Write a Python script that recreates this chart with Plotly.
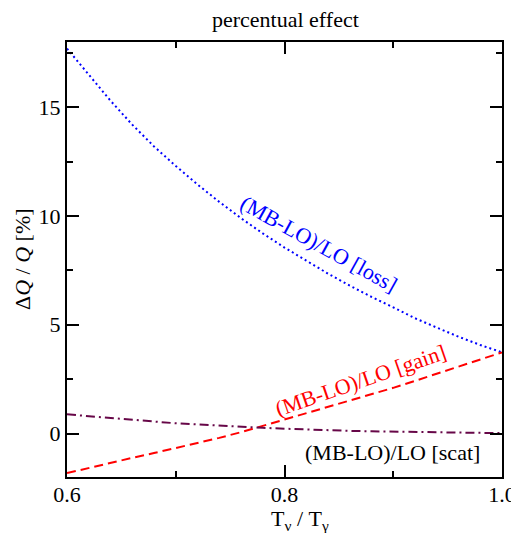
import plotly.graph_objects as go

x_vals = [0.60, 0.62, 0.64, 0.66, 0.68, 0.70, 0.72, 0.74, 0.76, 0.78, 0.80,
          0.82, 0.84, 0.86, 0.88, 0.90, 0.92, 0.94, 0.96, 0.98, 1.00]
loss_vals = [17.7, 16.5, 15.3, 14.2, 13.2, 12.3, 11.45, 10.65, 9.9, 9.2, 8.55,
             7.95, 7.35, 6.8, 6.28, 5.8, 5.3, 4.87, 4.45, 4.07, 3.73]
gain_vals = [-1.82, -1.58, -1.35, -1.12, -0.9, -0.67, -0.44, -0.2, 0.06, 0.35, 0.63,
             0.92, 1.21, 1.5, 1.8, 2.1, 2.42, 2.74, 3.06, 3.39, 3.73]
scat_vals = [0.88, 0.79, 0.71, 0.63, 0.55, 0.47, 0.41, 0.35, 0.30, 0.26, 0.22,
             0.18, 0.15, 0.12, 0.10, 0.08, 0.06, 0.05, 0.04, 0.03, 0.02]

x_ticks = [0.6, 0.8, 1.0]
x_tick_labels = ["0.6", "0.8", "1.0"]
y_ticks = [0, 5, 10, 15]
y_tick_labels = ["0", "5", "10", "15"]

FONT = "Liberation Serif"
OFF = 8  # default page body margin
W, H = 519, 533
# target frame in screen pixels: left 67, right 502, top 42, bottom 477
L = 67 - OFF
T = 42 - OFF
R = W - (502 - OFF)
B = H - (477 - OFF)
PW, PH = W - L - R, H - T - B

def px(xs):
    return (xs - OFF - L) / PW

def py(ys):
    return (H - B - (ys - OFF)) / PH

fig = go.Figure()
fig.add_trace(go.Scatter(x=x_vals, y=loss_vals, mode="lines",
                         line=dict(color="#0000ff", width=2, dash="2px,3px"),
                         showlegend=False))
fig.add_trace(go.Scatter(x=x_vals, y=gain_vals, mode="lines",
                         line=dict(color="#ff0000", width=2, dash="9px,5px"),
                         showlegend=False))
fig.add_trace(go.Scatter(x=x_vals, y=scat_vals, mode="lines",
                         line=dict(color="#670748", width=2, dash="9px,4px,2px,4px"),
                         showlegend=False))

axis_common = dict(showgrid=False, zeroline=False, showline=True, linecolor="black",
                   linewidth=2, mirror="allticks", ticks="inside", ticklen=12,
                   tickwidth=2, tickcolor="black", automargin=False,
                   tickfont=dict(family=FONT, size=22, color="black"))

fig.update_xaxes(range=[0.6, 1.0], tickvals=x_ticks, ticktext=x_tick_labels,
                 ticklabelstandoff=-3,
                 minor=dict(tickvals=[0.7, 0.9], ticklen=6, tickwidth=2,
                            tickcolor="black", ticks="inside"),
                 **axis_common)
fig.update_yaxes(range=[-2, 18], tickvals=y_ticks, ticktext=y_tick_labels,
                 minor=dict(tickvals=[2.5, 7.5, 12.5, 17.5], ticklen=6, tickwidth=2,
                            tickcolor="black", ticks="inside"),
                 **axis_common)

ann = [
    dict(text="percentual effect", x=px(285), y=py(20), font=dict(size=22, color="black")),
    dict(text="Δ<i>Q</i> / <i>Q</i> [%]", x=px(22), y=py(259), textangle=-90,
         font=dict(size=22, color="black")),
    dict(text="T<sub>ν</sub> / T<sub>γ</sub>", x=px(300), y=py(520),
         font=dict(size=22, color="black")),
    dict(text="(MB-LO)/LO [loss]", x=px(318), y=py(244), textangle=29,
         font=dict(size=22, color="#0000ff")),
    dict(text="(MB-LO)/LO [gain]", x=px(360), y=py(380), textangle=-19,
         font=dict(size=22, color="#ff0000")),
    dict(text="(MB-LO)/LO [scat]", x=px(392), y=py(452),
         font=dict(size=22, color="black")),
]
for a in ann:
    a.update(xref="paper", yref="paper", showarrow=False, xanchor="center", yanchor="middle")
    a["font"]["family"] = FONT

fig.update_layout(width=W, height=H, margin=dict(l=L, r=R, t=T, b=B, autoexpand=False),
                  plot_bgcolor="white", paper_bgcolor="white",
                  annotations=ann, font=dict(family=FONT))

fig.write_html("out.html")
